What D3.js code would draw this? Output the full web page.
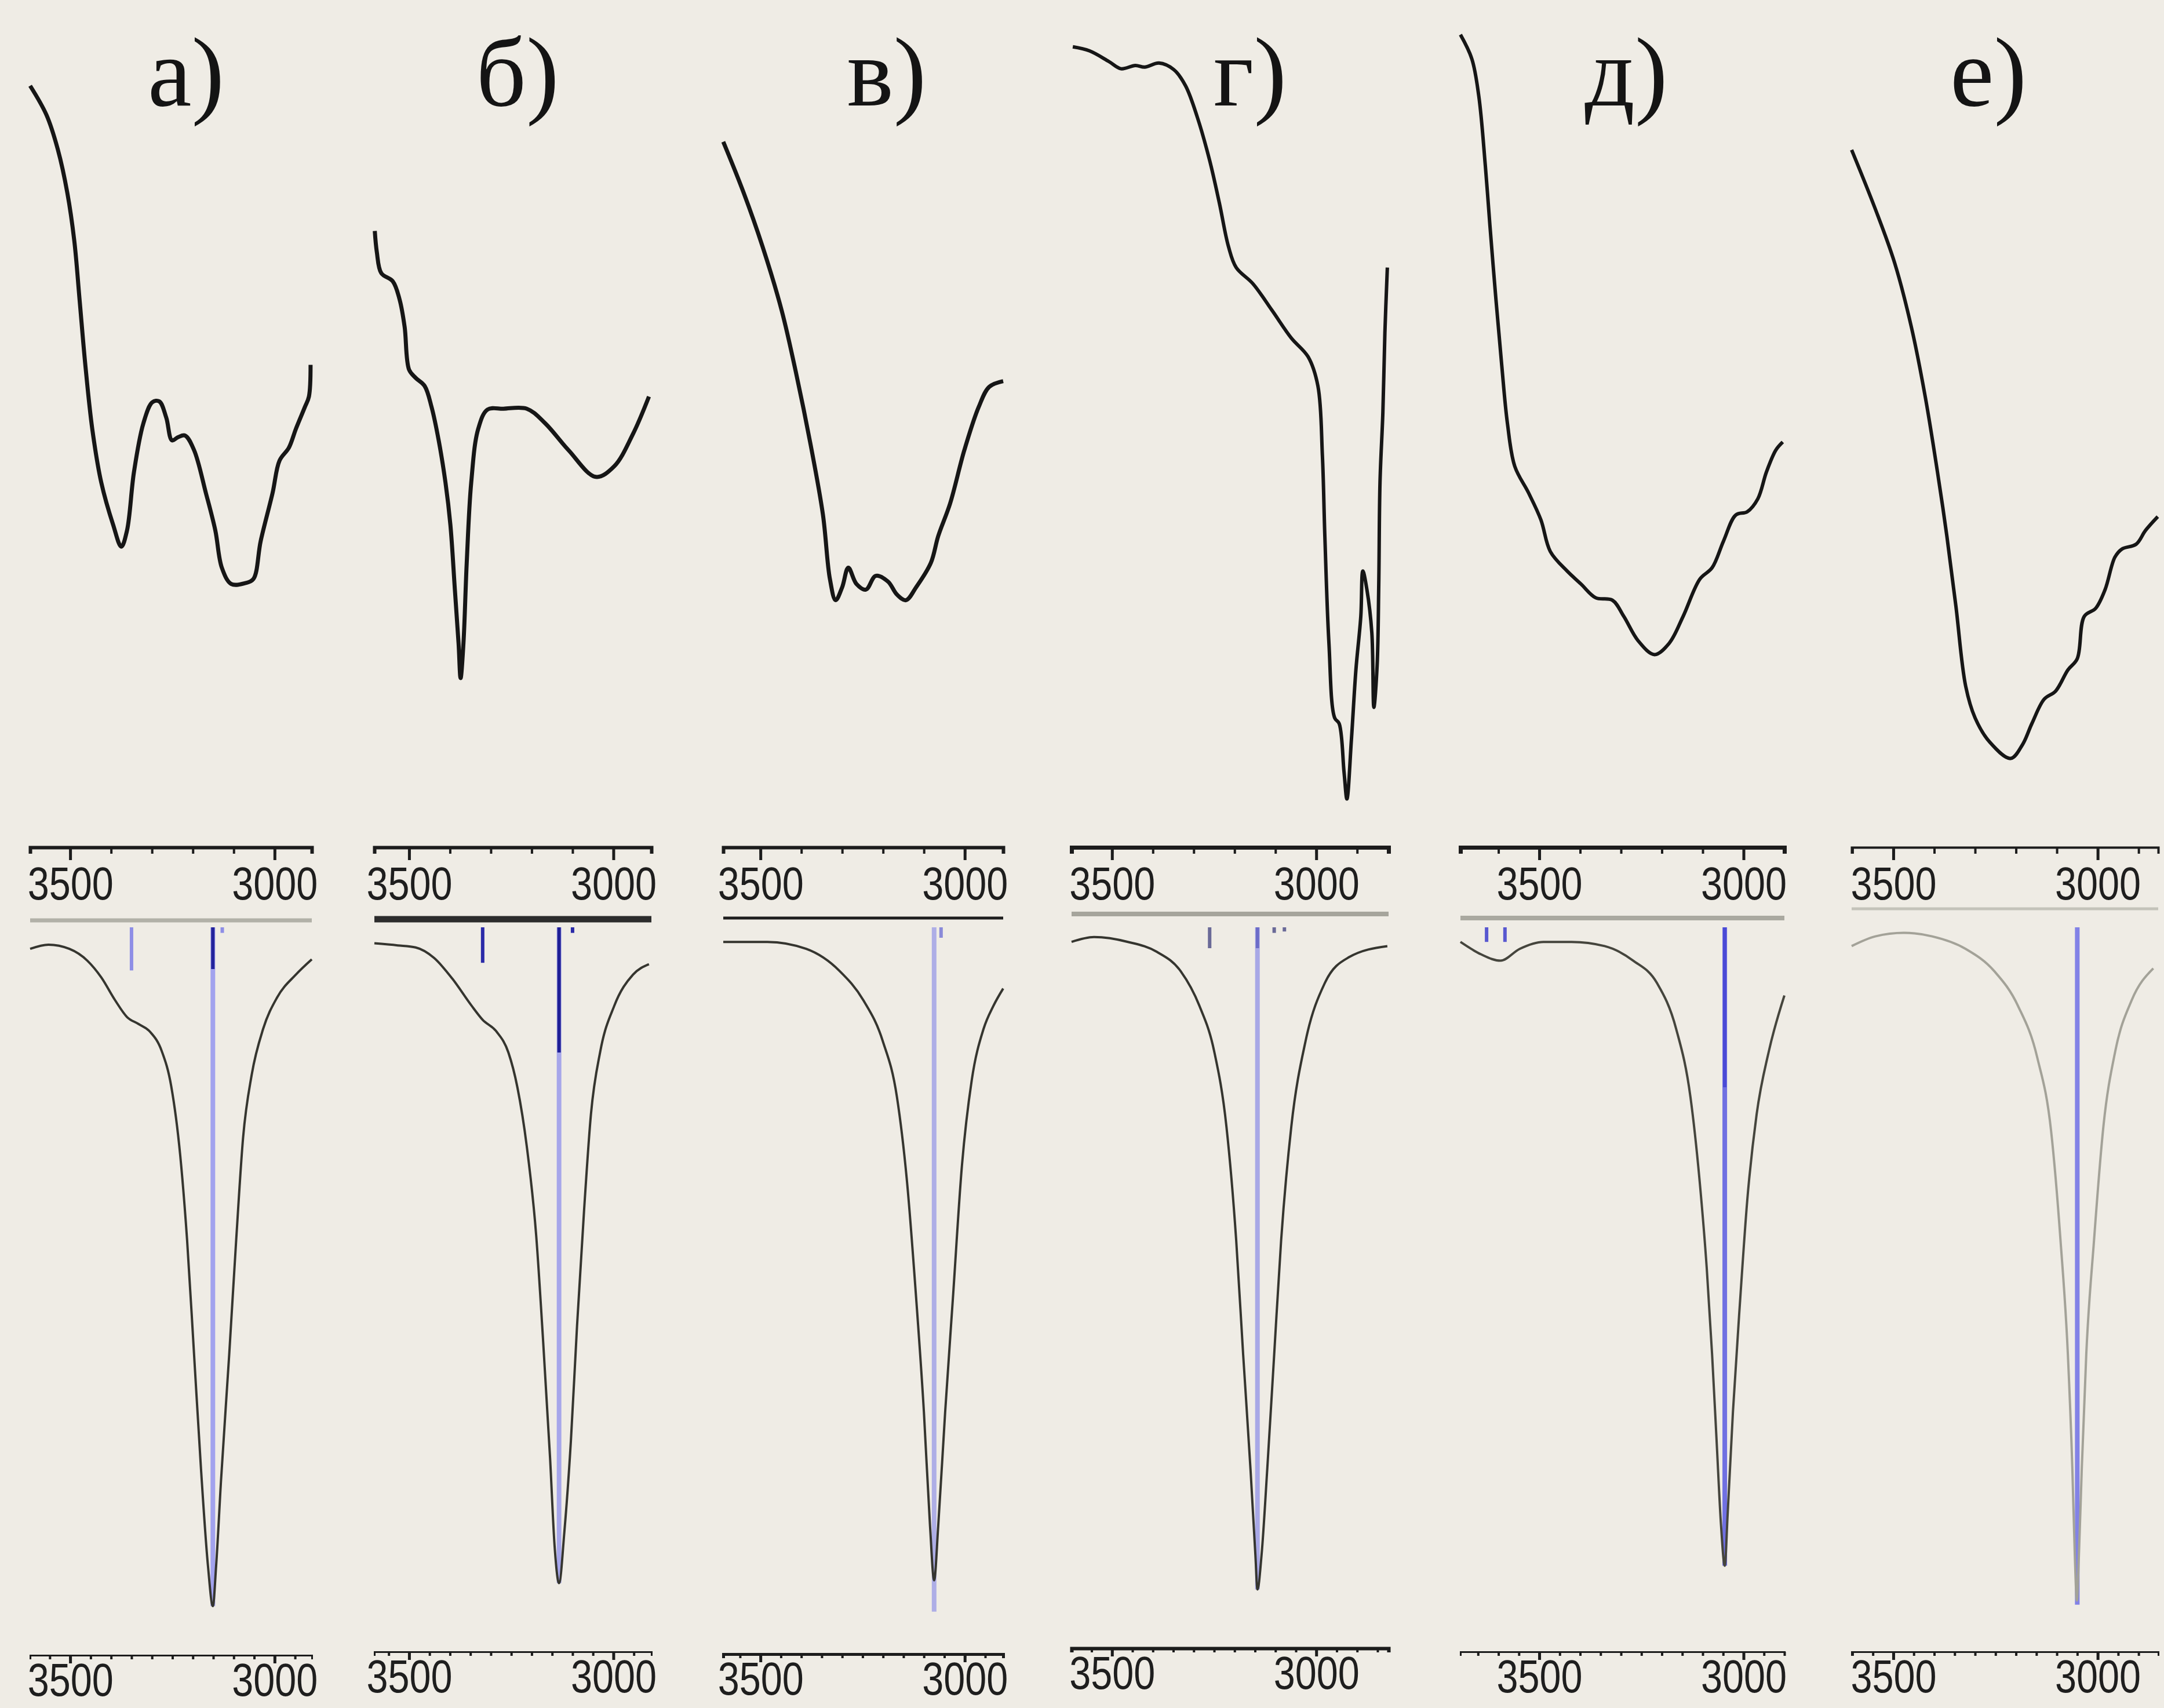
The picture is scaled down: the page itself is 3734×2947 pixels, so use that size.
<!DOCTYPE html>
<html>
<head>
<meta charset="utf-8">
<script src="https://cdn.jsdelivr.net/npm/d3@7"></script>
<style>
  html, body { margin: 0; padding: 0; background: #efece5; }
  svg { display: block; }
</style>
</head>
<body>
<svg id="chart"></svg>
<script>
const W = 3734, H = 2947;

// panel captions
const captions = ["а)", "б)", "в)", "г)", "д)", "е)"];
// wavenumber span of each panel (left edge, right edge), cm-1
const wnRanges = [[3598, 2909], [3585, 2907], [3591, 2906], [3599, 2823], [3693, 2900], [3602, 2852]];
const tickLabels = [3500, 3000];

// experimental IR spectra: [wavenumber, transmittance (arb. %)]
const exptA = [[3598,93.0],[3558,89.4],[3530,85.1],[3507,79.8],[3490,73.9],[3477,66.6],[3463,58.6],[3446,50.7],[3424,44.1],[3395,38.9],[3375,36.2],[3361,38.2],[3344,45.4],[3321,51.4],[3299,54.0],[3282,54.1],[3265,52.1],[3251,49.3],[3236,49.7],[3219,49.9],[3197,48.1],[3168,42.8],[3145,38.2],[3129,33.6],[3106,31.6],[3072,31.7],[3052,32.2],[3034,36.9],[3005,42.8],[2988,46.8],[2965,48.4],[2948,50.7],[2926,53.4],[2916,54.7],[2912,58.6]];
const exptB = [[3584,75.1],[3579,72.5],[3568,69.9],[3540,68.9],[3523,66.6],[3511,63.3],[3500,58.0],[3484,57.0],[3462,56.0],[3445,53.4],[3428,49.4],[3411,44.1],[3399,38.9],[3388,30.9],[3379,24.3],[3374,20.0],[3367,24.3],[3359,34.2],[3348,44.1],[3331,50.7],[3308,53.1],[3269,53.2],[3212,53.2],[3167,51.4],[3110,48.1],[3043,44.8],[2998,46.1],[2952,50.1],[2913,54.7]];
const exptV = [[3591,86.1],[3541,79.8],[3495,73.2],[3448,65.3],[3412,57.4],[3377,48.7],[3347,40.1],[3330,32.2],[3316,29.6],[3300,31.2],[3285,33.6],[3265,31.6],[3242,30.9],[3218,32.6],[3188,31.9],[3166,30.3],[3144,29.6],[3119,31.2],[3083,34.2],[3065,37.5],[3036,41.5],[3001,48.1],[2966,53.4],[2940,55.9],[2906,56.6]];
const exptG = [[3596,97.8],[3555,97.3],[3508,96.0],[3478,95.1],[3443,95.5],[3420,95.3],[3385,95.8],[3349,95.0],[3320,93.0],[3291,89.1],[3261,83.8],[3237,78.5],[3215,73.2],[3196,70.6],[3155,68.6],[3108,65.3],[3061,61.9],[3020,59.6],[2996,56.0],[2985,47.4],[2979,37.5],[2969,24.3],[2955,15.1],[2944,14.4],[2932,8.4],[2925,5.1],[2914,12.4],[2903,21.0],[2891,27.6],[2886,33.2],[2876,30.9],[2864,25.6],[2859,16.4],[2851,21.6],[2847,31.6],[2844,44.1],[2837,52.7],[2832,62.6],[2826,70.6]];
const exptD = [[3693,99.3],[3665,96.3],[3648,91.7],[3632,83.1],[3621,75.9],[3606,66.6],[3592,58.6],[3578,51.4],[3560,46.1],[3526,42.8],[3496,39.5],[3473,35.6],[3432,33.2],[3398,31.6],[3362,29.9],[3321,29.6],[3293,27.6],[3258,24.6],[3218,22.9],[3182,24.3],[3148,27.6],[3107,32.2],[3077,33.6],[3049,36.9],[3019,40.1],[2991,40.5],[2965,42.1],[2944,45.4],[2921,48.1],[2904,49.1]];
const exptE = [[3602,85.1],[3544,77.8],[3497,71.2],[3456,63.3],[3422,54.7],[3392,45.4],[3369,37.5],[3347,28.9],[3323,19.0],[3300,15.1],[3264,12.1],[3213,10.1],[3184,11.8],[3161,14.4],[3131,17.4],[3103,18.4],[3073,21.0],[3050,22.4],[3033,27.6],[3005,28.6],[2982,30.9],[2958,34.9],[2941,35.9],[2906,36.5],[2883,38.2],[2853,39.9]];

// calculated spectra: [wavenumber, absorption (arb. %)]
const calcA = [[3598,3.1],[3553,2.5],[3502,3.1],[3458,4.8],[3424,7.2],[3390,10.5],[3361,12.9],[3333,13.9],[3305,15.0],[3276,17.8],[3253,22.8],[3231,32.7],[3214,45.0],[3197,61.4],[3180,77.9],[3163,91.8],[3151,97.6],[3143,91.8],[3131,79.5],[3111,61.4],[3094,45.0],[3077,30.2],[3056,21.2],[3028,14.6],[2994,10.1],[2948,6.8],[2909,4.6]];
const calcB = [[3585,2.3],[3528,2.6],[3484,2.9],[3439,4.4],[3394,7.4],[3348,11.2],[3320,13.3],[3286,15.0],[3257,18.0],[3235,23.0],[3212,31.5],[3189,44.3],[3172,59.5],[3155,76.3],[3144,88.9],[3133,94.3],[3120,86.9],[3104,73.8],[3089,57.3],[3072,40.9],[3055,26.9],[3032,17.8],[2998,11.3],[2952,6.8],[2913,5.3]];
const calcV = [[3591,2.1],[3483,2.1],[3388,3.1],[3306,6.3],[3248,10.5],[3201,16.3],[3166,24.4],[3141,36.8],[3119,53.3],[3100,69.7],[3085,86.1],[3075,93.9],[3065,86.1],[3048,69.7],[3029,53.3],[3007,34.3],[2983,22.0],[2954,14.6],[2930,11.3],[2906,8.8]];
const calcG = [[3599,2.1],[3544,1.4],[3461,2.1],[3391,3.5],[3332,6.3],[3286,11.3],[3250,17.8],[3220,28.6],[3196,45.0],[3179,61.4],[3161,77.9],[3149,90.3],[3144,95.2],[3134,90.3],[3120,77.9],[3103,61.4],[3086,45.0],[3061,28.6],[3026,16.3],[2979,8.0],[2920,4.3],[2826,2.7]];
const calcD = [[3693,2.1],[3642,3.9],[3595,4.8],[3548,3.1],[3490,2.1],[3421,2.1],[3340,2.7],[3270,4.8],[3212,8.0],[3165,14.6],[3130,24.4],[3107,36.8],[3090,49.1],[3077,61.4],[3066,73.8],[3055,86.1],[3046,91.8],[3039,84.5],[3026,69.7],[3008,53.3],[2991,39.3],[2968,26.9],[2938,17.8],[2900,9.8]];
const calcE = [[3602,2.7],[3544,1.3],[3474,0.8],[3405,1.3],[3323,3.1],[3253,6.3],[3195,11.3],[3148,18.7],[3114,29.3],[3091,45.0],[3073,61.4],[3062,77.9],[3056,90.3],[3051,96.8],[3046,90.3],[3039,77.9],[3028,61.4],[3009,45.0],[2986,28.6],[2957,17.8],[2917,10.5],[2864,5.9]];

// calculated bands (sticks): [wavenumber, intensity]
const bandsA = [[3350,6.2],[3151,97.6],[3128,0.8]];
const bandsB = [[3320,5.1],[3133,94.3],[3100,0.8]];
const bandsV = [[3075,98.4],[3058,1.5]];
const bandsG = [[3261,3.0],[3144,95.2],[3103,0.8],[3078,0.6]];
const bandsD = [[3629,2.1],[3584,2.1],[3046,91.8]];
const bandsE = [[3050,97.4]];

const expt = [exptA, exptB, exptV, exptG, exptD, exptE];
const calc = [calcA, calcB, calcV, calcG, calcD, calcE];
const bands = [bandsA, bandsB, bandsV, bandsG, bandsD, bandsE];

// layout (pixels)
const pixX = [[52, 538], [646, 1124], [1248, 1731], [1849, 2396], [2520, 3079], [3195, 3724]];
const captionX = [321, 893, 1530, 2157, 2806, 3431];
const topAxisY = 1462;

// per-panel look
const look = [
  { sepY: 1588, sep: "#b2b1a8", sepW: 7, topW: 6, botY: 2856, botW: 3, curve: "#35352f", curveW: 4, expW: 7, stick: "#a2a2ee", dark: "#23239c", darkTo: 6, side: "#8e8ee6" },
  { sepY: 1586, sep: "#2c2c2c", sepW: 11, topW: 6, botY: 2850, botW: 3, curve: "#35352f", curveW: 4, expW: 7, stick: "#a6a6ea", dark: "#1e1e96", darkTo: 18, side: "#2a2aa8" },
  { sepY: 1584, sep: "#1e1e1e", sepW: 5, topW: 6, botY: 2854, botW: 5, curve: "#35352f", curveW: 4, expW: 7, stick: "#aeaee6", dark: "#aeaee6", darkTo: 0, side: "#8a8ad8" },
  { sepY: 1577, sep: "#a6a59c", sepW: 8, topW: 7, botY: 2844, botW: 6, curve: "#35352f", curveW: 4, expW: 6, stick: "#a8a8e6", dark: "#6c6cc8", darkTo: 3, side: "#6a6a98" },
  { sepY: 1584, sep: "#aaa9a0", sepW: 8, topW: 7, botY: 2850, botW: 3, curve: "#45453d", curveW: 4, expW: 6, stick: "#7070e2", dark: "#4a4ad6", darkTo: 23, side: "#5858d0" },
  { sepY: 1568, sep: "#c4c3ba", sepW: 5, topW: 4, botY: 2850, botW: 3, curve: "#a3a298", curveW: 4, expW: 6, stick: "#8282e6", dark: "#8282e6", darkTo: 0, side: "#8282e6" }
];

const svg = d3.select("#chart").attr("width", W).attr("height", H);
svg.append("rect").attr("width", W).attr("height", H).attr("fill", "#efece5");

const yExp = d3.scaleLinear().domain([0, 100]).range([1450, 50]);
const yCalc = d3.scaleLinear().domain([0, 100]).range([1600, 2800]);

const labelFont = "'Liberation Sans Narrow', 'Liberation Sans', Arial, sans-serif";

function drawAxis(g, x, y, step, tickLen, lineW, labelY) {
  const [a, b] = x.domain();
  const lo = Math.min(a, b), hi = Math.max(a, b);
  const minor = d3.range(Math.ceil(lo / step) * step, hi, step);

  const ax = g.append("g").attr("transform", `translate(0,${y})`);
  ax.call(d3.axisBottom(x).tickValues(minor).tickSize(tickLen).tickSizeOuter(tickLen).tickFormat(""));
  ax.select(".domain").attr("stroke", "#1c1c1c").attr("stroke-width", lineW);
  ax.selectAll(".tick line").attr("stroke", "#1c1c1c").attr("stroke-width", 4);

  const major = ax.append("g")
    .call(d3.axisBottom(x).tickValues(tickLabels).tickSize(tickLen * 2).tickFormat(d3.format("d")));
  major.select(".domain").remove();
  major.attr("font-size", null).attr("font-family", null);
  major.selectAll(".tick line").attr("stroke", "#1c1c1c").attr("stroke-width", 5);
  major.selectAll("text")
    .attr("y", labelY).attr("dy", 0)
    .attr("fill", "#1e1e1e")
    .attr("textLength", 148)
    .attr("lengthAdjust", "spacingAndGlyphs")
    .style("font-family", labelFont)
    .style("font-size", "80px");
}

captions.forEach((cap, i) => {
  const st = look[i];
  const x = d3.scaleLinear().domain(wnRanges[i]).range(pixX[i]);
  const g = svg.append("g");

  // caption
  g.append("text")
    .attr("x", captionX[i]).attr("y", 182)
    .attr("text-anchor", "middle")
    .style("font-family", "'Liberation Serif', 'Times New Roman', serif")
    .style("font-size", "170px")
    .attr("fill", "#141414")
    .text(cap);

  // experimental spectrum
  const expLine = d3.line()
    .x(d => x(d[0])).y(d => yExp(d[1]))
    .curve(d3.curveCatmullRom.alpha(0.5));
  g.append("path")
    .datum(expt[i])
    .attr("d", expLine)
    .attr("fill", "none")
    .attr("stroke", "#161616")
    .attr("stroke-width", st.expW)
    .attr("stroke-linejoin", "round");

  // top wavenumber axis
  drawAxis(g, x, topAxisY, 100, 11, st.topW, 90);

  // separator under the axis labels
  g.append("line")
    .attr("x1", pixX[i][0]).attr("x2", pixX[i][1])
    .attr("y1", st.sepY).attr("y2", st.sepY)
    .attr("stroke", st.sep).attr("stroke-width", st.sepW);

  // calculated band sticks
  bands[i].forEach(([wn, v]) => {
    const main = v >= 50;
    g.append("line")
      .attr("x1", x(wn)).attr("x2", x(wn))
      .attr("y1", yCalc(0)).attr("y2", yCalc(v))
      .attr("stroke", main ? st.stick : st.side)
      .attr("stroke-width", main ? 8 : 6);
    if (main && st.darkTo > 0) {
      g.append("line")
        .attr("x1", x(wn)).attr("x2", x(wn))
        .attr("y1", yCalc(0)).attr("y2", yCalc(st.darkTo))
        .attr("stroke", st.dark).attr("stroke-width", 6);
    }
  });

  // calculated envelope
  const calcLine = d3.line()
    .x(d => x(d[0])).y(d => yCalc(d[1]))
    .curve(d3.curveMonotoneX);
  g.append("path")
    .datum(calc[i])
    .attr("d", calcLine)
    .attr("fill", "none")
    .attr("stroke", st.curve)
    .attr("stroke-width", st.curveW);

  // bottom wavenumber axis
  drawAxis(g, x, st.botY, 50, 7, st.botW, 70);
});
</script>
</body>
</html>
